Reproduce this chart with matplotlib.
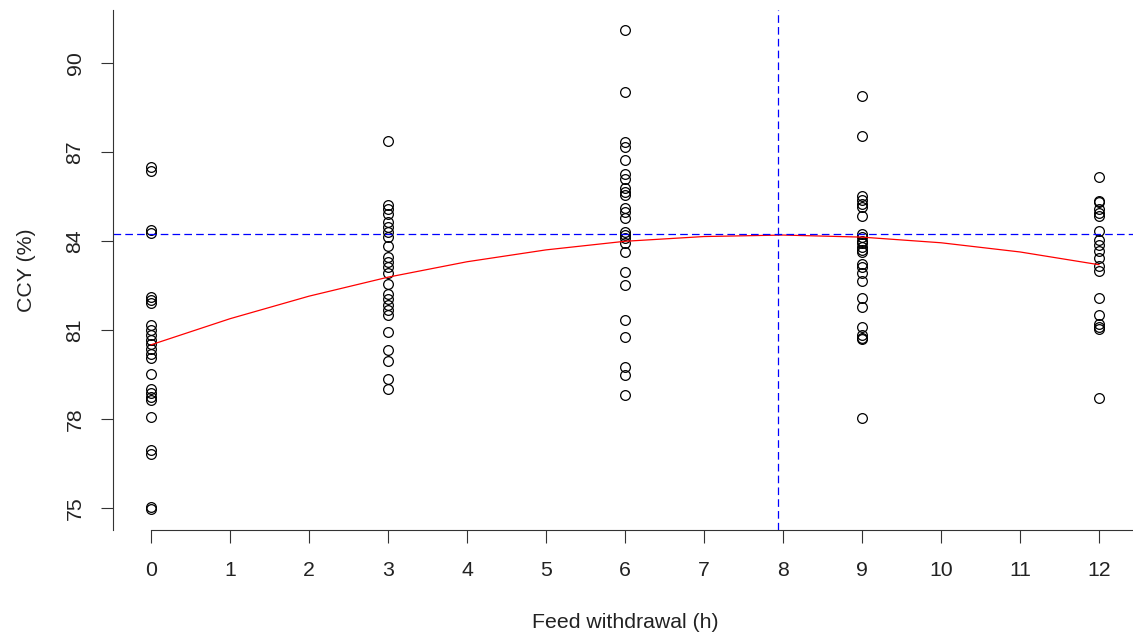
import matplotlib
matplotlib.use("Agg")
import matplotlib.pyplot as plt
import numpy as np

plt.rcParams['font.family'] = ['Liberation Sans', 'DejaVu Sans']
plt.rcParams['lines.scale_dashes'] = False

# ---- data ----
feed_0 = [86.48, 86.37, 84.37, 84.28, 82.12, 82.0, 81.9, 81.17, 81.0, 80.83, 80.66,
          80.52, 80.36, 80.19, 80.05, 79.52, 79.0, 78.89, 78.75, 78.64, 78.08, 76.96,
          76.82, 75.05, 74.98]
feed_3 = [87.38, 85.21, 85.07, 84.91, 84.65, 84.48, 84.31, 84.13, 83.84, 83.47, 83.30,
          83.13, 82.91, 82.55, 82.21, 82.05, 81.84, 81.67, 81.51, 80.94, 80.33, 79.97,
          79.34, 79.0]
feed_6 = [91.11, 89.01, 87.35, 87.18, 86.73, 86.25, 86.08, 85.78, 85.66, 85.55, 85.1,
          84.97, 84.79, 84.31, 84.2, 84.09, 83.92, 83.62, 82.95, 82.5, 81.33, 80.77,
          79.76, 79.48, 78.81]
feed_9 = [88.89, 87.54, 85.52, 85.38, 85.25, 85.14, 84.84, 84.24, 84.12, 84.01, 83.92,
          83.81, 83.7, 83.62, 83.23, 83.11, 82.93, 82.64, 82.07, 81.79, 81.11, 80.83,
          80.72, 80.7, 78.02]
feed_12 = [86.17, 85.36, 85.3, 85.07, 84.95, 84.84, 84.35, 84.03, 83.87, 83.67, 83.42,
           83.16, 82.99, 82.09, 81.51, 81.2, 81.1, 81.05, 78.7]
groups = {0: feed_0, 3: feed_3, 6: feed_6, 9: feed_9, 12: feed_12}

fit_x = [0, 1, 2, 3, 4, 5, 6, 7, 8, 9, 10, 11, 12]
fit_y = [80.50, 81.38, 82.14, 82.78, 83.30, 83.70, 83.99, 84.15, 84.20, 84.13, 83.94, 83.63, 83.20]

opt_x = 7.94
opt_y = 84.22

x_ticks = list(range(0, 13))
y_ticks = [75, 78, 81, 84, 87, 90]

# ---- figure ----
W, H = 1133, 641
fig = plt.figure(figsize=(W / 100, H / 100), dpi=100)
ax = fig.add_axes([113 / W, 1 - 530 / H, (1133 - 113) / W, (530 - 10) / H])

for xv, ys in groups.items():
    ax.plot([xv] * len(ys), ys, linestyle='none', marker='o', markersize=7,
            markerfacecolor='none', markeredgecolor='black', markeredgewidth=0.9)

ax.plot(fit_x, fit_y, color='red', linewidth=0.9)
ax.axhline(opt_y, color='blue', linewidth=0.9, linestyle=(0, (5.5, 3)))
ax.axvline(opt_x, color='blue', linewidth=0.9, linestyle=(0, (5.5, 3)))

ax.set_xlim(-0.481, 12.43)
ax.set_ylim(74.258, 91.786)

for s in ['top', 'right']:
    ax.spines[s].set_visible(False)
ax.spines['bottom'].set_bounds(0, 12.43)
for s in ['left', 'bottom']:
    ax.spines[s].set_linewidth(0.8)
    ax.spines[s].set_color('#333333')

ax.set_xticks(x_ticks)
ax.set_yticks(y_ticks)
ax.tick_params(axis='both', length=9, width=0.8, color='#333333', labelsize=15.3,
               labelcolor='#222222')
ax.tick_params(axis='x', pad=13)
ax.tick_params(axis='y', pad=11.5)
for lab in ax.get_yticklabels():
    lab.set_rotation(90)
    lab.set_va('center')

fig.text(625 / W, 1 - 622 / H, 'Feed withdrawal (h)', ha='center', va='center',
         fontsize=15.3, color='#222222')
fig.text(27 / W, 1 - 270 / H, 'CCY (%)', ha='center', va='center', rotation=90,
         fontsize=15.3, color='#222222')

fig.savefig('out.png', dpi=100, facecolor='white')
